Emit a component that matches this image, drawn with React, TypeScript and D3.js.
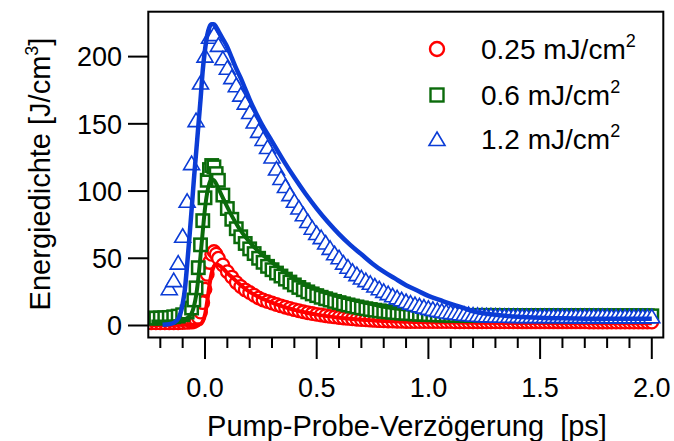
import React from "react";
import * as d3 from "d3";

// ---------- data ----------
const delaysRG = [
  -0.24, -0.22, -0.2, -0.18, -0.16, -0.14, -0.12, -0.1, -0.08, -0.06,
  -0.05, -0.04, -0.03, -0.02, -0.01, 0.0, 0.01, 0.02, 0.03, 0.04, 0.05, 0.06,
  0.08, 0.1, 0.12, 0.14, 0.16, 0.18, 0.2, 0.22, 0.24, 0.26, 0.28, 0.3, 0.32, 0.34, 0.36, 0.38,
  0.4, 0.42, 0.44, 0.46, 0.48, 0.5, 0.52, 0.54, 0.56, 0.58, 0.6, 0.62, 0.64, 0.66, 0.68, 0.7,
  0.72, 0.74, 0.76, 0.78, 0.8, 0.82, 0.84, 0.86, 0.88, 0.9,
  0.92, 0.94, 0.96, 0.98, 1.0, 1.02, 1.04, 1.06, 1.08, 1.1,
  1.12, 1.14, 1.16, 1.18, 1.2, 1.22, 1.24, 1.26, 1.28, 1.3,
  1.32, 1.34, 1.36, 1.38, 1.4, 1.42, 1.44, 1.46, 1.48, 1.5,
  1.52, 1.54, 1.56, 1.58, 1.6, 1.62, 1.64, 1.66, 1.68, 1.7,
  1.72, 1.74, 1.76, 1.78, 1.8, 1.82, 1.84, 1.86, 1.88, 1.9,
  1.92, 1.94, 1.96, 1.98, 2.0,
];

const red025 = [
  2.0, 2.0, 2.0, 2.0, 2.0, 2.1, 2.1, 2.2, 2.3, 2.5,
  3, 4, 6, 10, 17, 27, 38, 47, 53, 55, 53, 50,
  45, 40, 36, 32, 29, 26.5, 24.5, 22.5, 20.5, 19, 17.8, 16.7, 15.6, 14.6, 13.6, 12.7,
  11.8, 11, 10.2, 9.5, 8.9, 8.3, 7.8, 7.3, 6.8, 6.4, 6.0, 5.6, 5.3, 5.0, 4.7, 4.4,
  4.2, 4.0, 3.8, 3.6, 3.5, 3.4, 3.3, 3.2, 3.1, 3.0,
  2.9, 2.9, 2.9, 2.9, 2.9, 2.9, 2.9, 2.9, 2.9, 2.9,
  2.8, 2.8, 2.8, 2.8, 2.8, 2.8, 2.8, 2.8, 2.8, 2.8,
  2.8, 2.8, 2.8, 2.8, 2.8, 2.7, 2.7, 2.7, 2.7, 2.7,
  2.7, 2.7, 2.7, 2.7, 2.7, 2.7, 2.7, 2.7, 2.7, 2.7,
  2.6, 2.6, 2.6, 2.6, 2.6, 2.6, 2.6, 2.6, 2.6, 2.6,
  2.6, 2.6, 2.6, 2.6, 2.6,
];

const green06 = [
  5.5, 5.5, 5.6, 5.8, 6.0, 6.5, 7.0, 8.0, 10, 13,
  19, 28, 43, 60, 78, 95, 108, 116, 119, 118, 113, 108,
  97, 87, 79, 72, 66, 61, 57, 53.5, 50, 47, 44, 41.5, 39, 36.8, 34.5, 32.3,
  30.2, 28.3, 26.6, 25, 23.5, 22.2, 21, 19.9, 18.9, 17.9, 17, 16.1, 15.3, 14.5, 13.8, 13.1,
  12.5, 11.9, 11.4, 10.9, 10.5, 10.1, 9.8, 9.5, 9.2, 9.0,
  8.8, 8.6, 8.4, 8.3, 8.1, 8.0, 7.9, 7.8, 7.7, 7.6,
  7.5, 7.5, 7.5, 7.5, 7.5, 7.5, 7.5, 7.5, 7.5, 7.5,
  7.4, 7.4, 7.4, 7.4, 7.4, 7.4, 7.4, 7.4, 7.4, 7.4,
  7.3, 7.3, 7.3, 7.3, 7.3, 7.3, 7.3, 7.3, 7.3, 7.3,
  7.2, 7.2, 7.2, 7.2, 7.2, 7.2, 7.2, 7.2, 7.2, 7.2,
  7.2, 7.2, 7.2, 7.2, 7.2,
];

const delaysBlue = [
  -0.16, -0.14, -0.12, -0.1, -0.08, -0.06, -0.04, -0.02, 0.0,
  0.02, 0.04, 0.06, 0.08, 0.1, 0.12, 0.14, 0.16, 0.18, 0.2,
  0.22, 0.24, 0.26, 0.28, 0.3, 0.32, 0.34, 0.36, 0.38, 0.4,
  0.42, 0.44, 0.46, 0.48, 0.5, 0.52, 0.54, 0.56, 0.58, 0.6,
  0.62, 0.64, 0.66, 0.68, 0.7, 0.72, 0.74, 0.76, 0.78, 0.8,
  0.82, 0.84, 0.86, 0.88, 0.9, 0.92, 0.94, 0.96, 0.98, 1.0,
  1.02, 1.04, 1.06, 1.08, 1.1, 1.12, 1.14, 1.16, 1.18, 1.2,
  1.22, 1.24, 1.26, 1.28, 1.3, 1.32, 1.34, 1.36, 1.38, 1.4,
  1.42, 1.44, 1.46, 1.48, 1.5, 1.52, 1.54, 1.56, 1.58, 1.6,
  1.62, 1.64, 1.66, 1.68, 1.7, 1.72, 1.74, 1.76, 1.78, 1.8,
  1.82, 1.84, 1.86, 1.88, 1.9, 1.92, 1.94, 1.96, 1.98, 2.0,
];

const blue12 = [
  27, 33, 46, 66, 92, 120, 152, 180, 200,
  214, 216, 208, 198, 191, 184, 178, 171, 165, 158,
  151, 144, 138, 132, 125, 116, 109, 103, 97, 92,
  87, 82, 77, 72, 68, 65, 61, 57, 53, 50,
  46, 43, 40, 37.5, 35, 33, 31, 29, 27, 25,
  23.3, 21.7, 20.2, 18.8, 17.5, 16.3, 15.2, 14.2, 13.3, 12.4,
  11.6, 10.9, 10.3, 9.7, 9.2, 8.8, 8.4, 8.0, 7.7, 7.4,
  7.2, 7.0, 6.9, 6.8, 6.7, 6.6, 6.5, 6.5, 6.4, 6.4,
  6.3, 6.3, 6.3, 6.3, 6.3, 6.3, 6.3, 6.3, 6.3, 6.3,
  6.2, 6.2, 6.2, 6.2, 6.2, 6.2, 6.2, 6.2, 6.2, 6.2,
  6.1, 6.1, 6.1, 6.1, 6.1, 6.1, 6.1, 6.1, 6.1, 6.1,
];

// fit curves
const redFitX = [-0.24, -0.05, -0.02, -0.01, 0.0, 0.01, 0.02, 0.03, 0.04, 0.05, 0.06, 0.08, 0.1, 0.12, 0.15, 0.2, 0.25, 0.3, 0.35, 0.4, 0.45, 0.5, 0.6, 0.7, 0.8, 0.9, 1.0, 1.2, 1.5, 2.0];
const redFitY = [0.3, 0.5, 1, 3, 8, 18, 30, 39, 44, 45.5, 45, 42.5, 39, 36, 31.5, 25, 20.5, 17, 14, 11.6, 9.7, 8.1, 5.8, 4.3, 3.4, 2.8, 2.4, 2.0, 1.8, 1.7];

const greenFitX = [-0.24, -0.15, -0.1, -0.08, -0.06, -0.05, -0.04, -0.03, -0.02, -0.01, 0.0, 0.01, 0.02, 0.03, 0.04, 0.05, 0.06, 0.08, 0.1, 0.12, 0.15, 0.2, 0.25, 0.3, 0.35, 0.4, 0.45, 0.5, 0.6, 0.7, 0.8, 0.9, 1.0, 1.1, 1.2, 1.4, 1.6, 1.8, 2.0];
const greenFitY = [3, 3.2, 4, 5.5, 9, 14, 22, 35, 52, 70, 87, 99, 106, 108.5, 108, 105.5, 102, 95, 88, 81.5, 73, 62, 53.5, 47, 40.5, 35, 30.5, 27, 21.5, 17.5, 14, 11.8, 10, 8.8, 8, 7, 6.6, 6.4, 6.3];

const blueFitX = [-0.19, -0.16, -0.14, -0.12, -0.11, -0.1, -0.09, -0.08, -0.07, -0.06, -0.05, -0.04, -0.03, -0.02, -0.01, 0.0, 0.01, 0.02, 0.03, 0.04, 0.05, 0.06, 0.08, 0.1, 0.12, 0.14, 0.16, 0.18, 0.2, 0.25, 0.3, 0.35, 0.4, 0.45, 0.5, 0.55, 0.6, 0.65, 0.7, 0.75, 0.8, 0.85, 0.9, 0.95, 1.0, 1.05, 1.1, 1.15, 1.2, 1.3, 1.4, 1.5, 1.6, 1.7, 1.8, 1.9, 2.0];
const blueFitY = [0.5, 1, 2, 5, 9, 16, 27, 45, 65, 86, 108, 128, 148, 168, 190, 205, 216, 222, 224, 224, 222, 219, 213, 207, 199, 191, 184, 176, 168, 151, 137, 123, 110, 98, 87, 77, 68, 60, 53, 46, 40, 35, 30, 26, 22, 19, 16, 13.5, 10.5, 8, 6.5, 5.7, 5.3, 5.1, 5.0, 5.0, 5.0];

const xTickMajor = [0, 0.5, 1.0, 1.5, 2.0];
const xTickLabels = ["0.0", "0.5", "1.0", "1.5", "2.0"];
const xTickMinor = [-0.2, -0.1, 0.1, 0.2, 0.3, 0.4, 0.6, 0.7, 0.8, 0.9, 1.1, 1.2, 1.3, 1.4, 1.6, 1.7, 1.8, 1.9];
const yTicks = [0, 50, 100, 150, 200];

const legendLabels = ["0.25 mJ/cm", "0.6 mJ/cm", "1.2 mJ/cm"];

// ---------- styling ----------
const FONT = "'Liberation Sans', Arial, Helvetica, sans-serif";
const RED = "#ff0000";
const GREEN = "#0b6b0b";
const BLUE = "#0b3cd6";

const W = 674;
const H = 441;
const box = { left: 148.3, right: 663.3, top: 11.7, bottom: 337.5 };

const x = d3.scaleLinear().domain([0, 2]).range([205, 651.8]);
const y = d3.scaleLinear().domain([0, 200]).range([325.5, 56.6]);

const line = d3
  .line<[number, number]>()
  .x((d) => x(d[0]))
  .y((d) => y(d[1]))
  .curve(d3.curveMonotoneX);

const zip = (a: number[], b: number[]) => a.map((v, i) => [v, b[i]] as [number, number]);

const triPath = "M0,-8 L8,5.5 L-8,5.5 Z";

export default function App() {
  return (
    <svg
      width={W}
      height={H}
      style={{ position: "absolute", left: 0, top: 0, display: "block", background: "#fff" }}
      fontFamily={FONT}
    >
      <rect x={0} y={0} width={W} height={H} fill="#fff" />
      <defs>
        <clipPath id="plotclip">
          <rect x={box.left} y={box.top} width={box.right - box.left} height={box.bottom - box.top} />
        </clipPath>
      </defs>

      <g clipPath="url(#plotclip)">
        {/* red */}
        {delaysRG.map((d, i) => (
          <circle key={"r" + i} cx={x(d)} cy={y(red025[i])} r={6.3} fill="#fff" stroke={RED} strokeWidth={2.3} />
        ))}
        <path d={line(zip(redFitX, redFitY)) || ""} fill="none" stroke={RED} strokeWidth={4} />
        {/* green */}
        {delaysRG.map((d, i) => (
          <rect
            key={"g" + i}
            x={x(d) - 6.2}
            y={y(green06[i]) - 6.2}
            width={12.4}
            height={12.4}
            fill="#fff"
            stroke={GREEN}
            strokeWidth={2.5}
          />
        ))}
        <path d={line(zip(greenFitX, greenFitY)) || ""} fill="none" stroke={GREEN} strokeWidth={4} />
        {/* blue */}
        {delaysBlue.map((d, i) => (
          <path
            key={"b" + i}
            d={triPath}
            transform={`translate(${x(d)},${y(blue12[i])})`}
            fill="#fff"
            stroke={BLUE}
            strokeWidth={1.6}
          />
        ))}
        <path d={line(zip(blueFitX, blueFitY)) || ""} fill="none" stroke={BLUE} strokeWidth={4.5} />
      </g>

      {/* frame */}
      <rect
        x={box.left}
        y={box.top}
        width={box.right - box.left}
        height={box.bottom - box.top}
        fill="none"
        stroke="#000"
        strokeWidth={2}
      />

      {/* y ticks */}
      {yTicks.map((t) => (
        <g key={"yt" + t}>
          <line x1={128} x2={box.left} y1={y(t)} y2={y(t)} stroke="#000" strokeWidth={2} />
          <text x={122} y={y(t) + 9.8} textAnchor="end" fontSize={27} fill="#000">
            {t}
          </text>
        </g>
      ))}

      {/* x ticks */}
      {xTickMinor.map((t) => (
        <line key={"xm" + t} x1={x(t)} x2={x(t)} y1={box.bottom} y2={348} stroke="#000" strokeWidth={2} />
      ))}
      {xTickMajor.map((t, i) => (
        <g key={"xt" + t}>
          <line x1={x(t)} x2={x(t)} y1={box.bottom} y2={359} stroke="#000" strokeWidth={2} />
          <text x={x(t)} y={397} textAnchor="middle" fontSize={27} fill="#000">
            {xTickLabels[i]}
          </text>
        </g>
      ))}

      {/* axis titles */}
      <text x={407} y={436} textAnchor="middle" fontSize={29} fill="#000" xmlSpace="preserve">
        Pump-Probe-Verzögerung  [ps]
      </text>
      <text transform="translate(50,174) rotate(-90)" textAnchor="middle" fontSize={29} fill="#000">
        Energiedichte [J/cm
        <tspan dy={-12} fontSize={18}>3</tspan>
        <tspan dy={12}>]</tspan>
      </text>

      {/* legend */}
      <g>
        <circle cx={437} cy={49} r={7} fill="#fff" stroke={RED} strokeWidth={2.4} />
        <rect x={430.5} y={88.5} width={13} height={13} fill="#fff" stroke={GREEN} strokeWidth={2.4} />
        <path d={triPath} transform="translate(437,140)" fill="#fff" stroke={BLUE} strokeWidth={1.6} />
        {legendLabels.map((lab, i) => (
          <text key={"lg" + i} x={481} y={[49, 95, 139][i] + 10} fontSize={28} fill="#000">
            {lab}
            <tspan dy={-12} fontSize={18}>2</tspan>
          </text>
        ))}
      </g>
    </svg>
  );
}
